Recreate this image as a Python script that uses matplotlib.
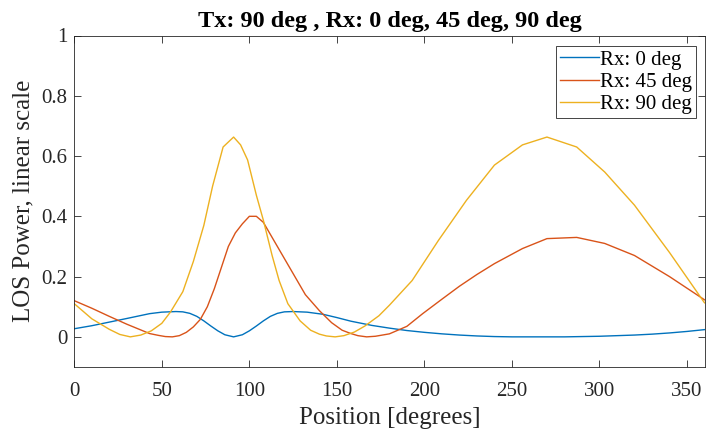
import matplotlib
matplotlib.use("Agg")
import matplotlib.pyplot as plt

plt.rcParams['font.family'] = ['Liberation Serif', 'DejaVu Serif']

# Rx: 0 deg
x_rx0 = [0, 10, 20, 30, 43, 50, 58, 62, 66, 70, 74, 78, 82, 86, 91, 96, 100,
         104, 108, 112, 116, 120, 125, 133, 142, 150, 158, 170, 180, 190, 200,
         210, 220, 230, 240, 250, 260, 270, 280, 290, 300, 310, 320, 330, 340,
         350, 360]
y_rx0 = [0.027, 0.037, 0.049, 0.061, 0.077, 0.082, 0.084, 0.083, 0.078, 0.068,
         0.053, 0.036, 0.020, 0.007, 0.0, 0.007, 0.020, 0.036, 0.053, 0.068,
         0.078, 0.083, 0.084, 0.082, 0.075, 0.064, 0.052, 0.038, 0.029, 0.021,
         0.015, 0.010, 0.006, 0.003, 0.001, 0.0, 0.0, 0.0, 0.0, 0.001, 0.002,
         0.004, 0.006, 0.009, 0.013, 0.018, 0.024]

# Rx: 45 deg
x_rx45 = [0, 10, 20, 30, 43, 48, 52, 56, 60, 64, 68, 72, 76, 80, 84, 88, 92,
          96, 100, 104, 108, 113, 119, 125, 132, 140, 147, 153, 158, 162, 167,
          172, 180, 190, 199, 210, 220, 230, 240, 256, 270, 287, 303, 320, 340,
          360]
y_rx45 = [0.12, 0.095, 0.068, 0.042, 0.011, 0.005, 0.001, 0.0, 0.004, 0.015,
          0.033, 0.058, 0.10, 0.16, 0.23, 0.30, 0.345, 0.375, 0.40, 0.40, 0.38,
          0.33, 0.27, 0.21, 0.14, 0.087, 0.047, 0.022, 0.011, 0.004, 0.0,
          0.002, 0.01, 0.035, 0.077, 0.125, 0.168, 0.207, 0.243, 0.293, 0.326,
          0.33, 0.31, 0.27, 0.2, 0.123]

# Rx: 90 deg
x_rx90 = [0, 10, 20, 26, 32, 38, 44, 50, 55, 62, 68, 74, 79, 85, 91, 95, 99,
          104, 108, 113, 117, 122, 129, 135, 140, 144, 149, 154, 160, 166, 174,
          180, 193, 208, 224, 240, 256, 270, 287, 303, 320, 340, 360]
y_rx90 = [0.11, 0.06, 0.025, 0.008, 0.0, 0.006, 0.02, 0.045, 0.083, 0.15, 0.25,
          0.37, 0.50, 0.63, 0.663, 0.637, 0.587, 0.47, 0.387, 0.27, 0.187,
          0.11, 0.053, 0.022, 0.009, 0.003, 0.0, 0.004, 0.016, 0.036, 0.07,
          0.105, 0.187, 0.32, 0.453, 0.57, 0.637, 0.663, 0.63, 0.547, 0.437,
          0.28, 0.113]

labels = ['Rx: 0 deg', 'Rx: 45 deg', 'Rx: 90 deg']
colors = ['#0072BD', '#D95319', '#EDB120']

fig = plt.figure(figsize=(7.07, 4.32), dpi=100)
ax = fig.add_axes([74.3/707, 1-367/432, (704.5-74.3)/707, (367-35.5)/432])

ax.plot(x_rx0, y_rx0, color=colors[0], lw=1.0, label=labels[0])
ax.plot(x_rx45, y_rx45, color=colors[1], lw=1.0, label=labels[1])
ax.plot(x_rx90, y_rx90, color=colors[2], lw=1.0, label=labels[2])

ax.set_xlim(0, 360)
ax.set_ylim(-0.1, 1)
ax.set_xticks(range(0, 351, 50))
ax.set_yticks([0, 0.2, 0.4, 0.6, 0.8, 1])
ax.set_yticklabels(['0', '0.2', '0.4', '0.6', '0.8', '1'])
ax.tick_params(direction='in', top=True, right=True, labelsize=15,
               length=5, width=0.6, colors='#262626', labelcolor='#262626', pad=5)
ax.tick_params(axis='x', pad=11)
for s in ax.spines.values():
    s.set_linewidth(0.6)
    s.set_color('#262626')

ax.set_xlabel('Position [degrees]', fontsize=18, color='#262626', labelpad=4)
ax.set_ylabel('LOS Power, linear scale', fontsize=18, color='#262626', labelpad=5)
ax.set_title('Tx: 90 deg , Rx: 0 deg, 45 deg, 90 deg', fontsize=17.5,
             fontweight='bold', pad=6)

leg = ax.legend(loc='upper right', bbox_to_anchor=(696/707, 1-46/432),
                bbox_transform=fig.transFigure, borderaxespad=0,
                fontsize=15, fancybox=False, framealpha=1,
                edgecolor='#262626', borderpad=0.2, labelspacing=0.12,
                handlelength=1.85, handletextpad=0.05)
leg.get_frame().set_linewidth(0.6)

fig.savefig('out.png', dpi=100)
